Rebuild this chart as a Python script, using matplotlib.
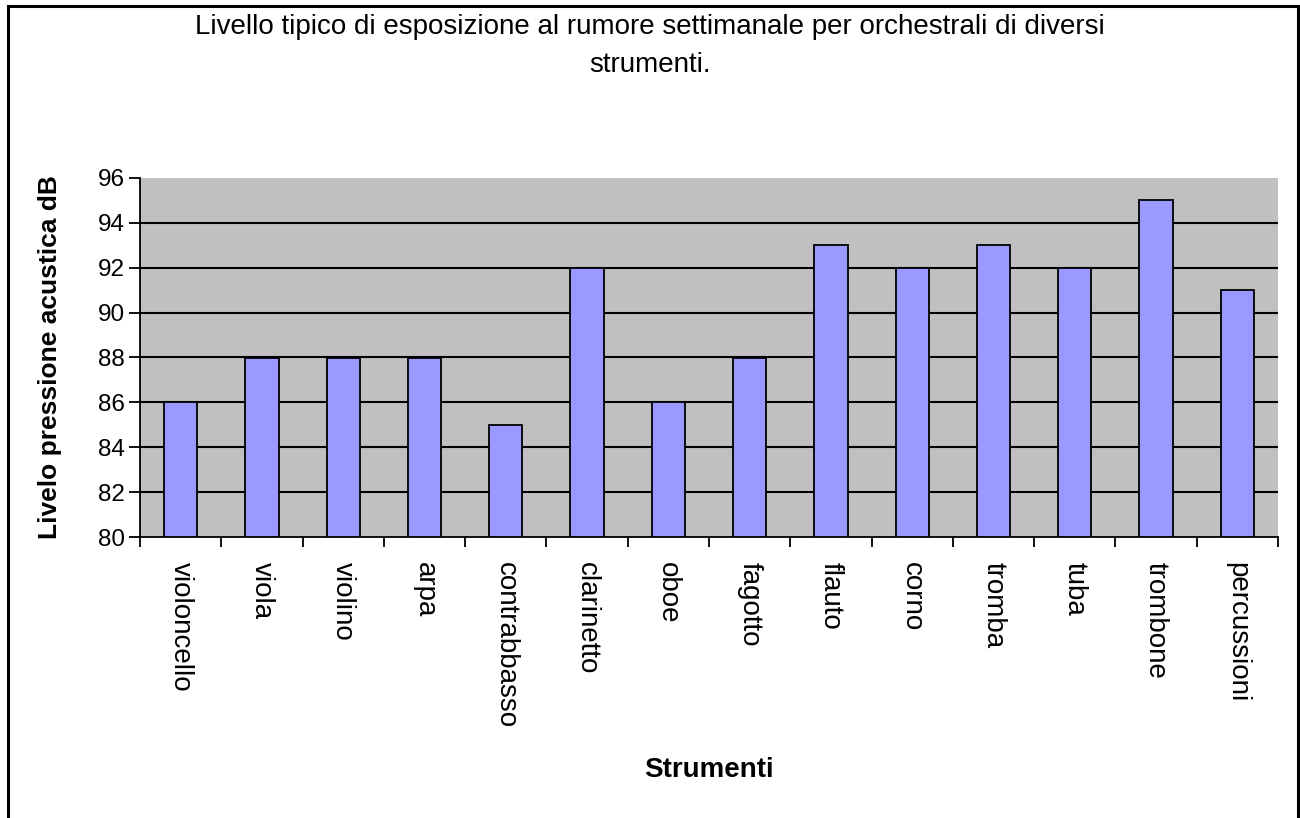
import matplotlib
matplotlib.use('Agg')
import matplotlib.pyplot as plt
from matplotlib.patches import Rectangle
import numpy as np

plt.rcParams['font.family'] = ['Liberation Sans', 'DejaVu Sans']

strumenti = ['violoncello', 'viola', 'violino', 'arpa', 'contrabbasso', 'clarinetto', 'oboe',
             'fagotto', 'flauto', 'corno', 'tromba', 'tuba', 'trombone', 'percussioni']
livelli = [86, 88, 88, 88, 85, 92, 86, 88, 93, 92, 93, 92, 95, 91]
y_ticks = [80, 82, 84, 86, 88, 90, 92, 94, 96]

fig = plt.figure(figsize=(13, 8.18), dpi=100)
ax = fig.add_axes([140 / 1300, 1 - 537 / 818, 1138 / 1300, 359 / 818])
ax.set_facecolor('#c0c0c0')

x = np.arange(len(strumenti))
ax.bar(x, [v - 80 for v in livelli], bottom=80, width=0.41, color='#9999ff',
       edgecolor='black', linewidth=1.3, zorder=3)

ax.set_xlim(-0.5, len(strumenti) - 0.5)
ax.set_ylim(80, 96)
ax.set_yticks(y_ticks)
ax.set_yticklabels([str(v) for v in y_ticks], fontsize=17.5)
for v in y_ticks[1:-1]:
    ax.axhline(v, color='black', linewidth=1.5, zorder=1)

# tick marks between categories, labels under the bars
ax.set_xticks(np.arange(len(strumenti) + 1) - 0.5)
ax.set_xticklabels([])
ax.set_xticks(x, minor=True)
ax.set_xticklabels(strumenti, minor=True, rotation=270, fontsize=20, va='top', ha='center')
ax.tick_params(axis='x', which='major', length=7, width=1.3, direction='out')
ax.tick_params(axis='x', which='minor', length=0, pad=18)
ax.tick_params(axis='y', length=8, width=1.3, pad=3)

for side in ['top', 'right']:
    ax.spines[side].set_visible(False)
ax.spines['left'].set_linewidth(1.3)
ax.spines['bottom'].set_linewidth(1.3)

ax.set_ylabel('Livelo pressione acustica dB', fontsize=19, fontweight='bold', va='center')
ax.yaxis.set_label_coords(-0.079, 0.5)
ax.set_xlabel('Strumenti', fontsize=20, fontweight='bold', va='center')
ax.xaxis.set_label_coords(0.5, -(770 - 537) / 359)

fig.text(0.5, 1 - 27 / 818, 'Livello tipico di esposizione al rumore settimanale per orchestrali di diversi',
         ha='center', va='center', fontsize=20)
fig.text(0.5, 1 - 65 / 818, 'strumenti.', ha='center', va='center', fontsize=20)

fig.patches.append(Rectangle((8 / 1300, -0.05), 1290 / 1300, 1.05 - 6 / 818,
                             transform=fig.transFigure, fill=False,
                             edgecolor='black', linewidth=2.2))

fig.savefig('out.png', dpi=100, facecolor='white')
